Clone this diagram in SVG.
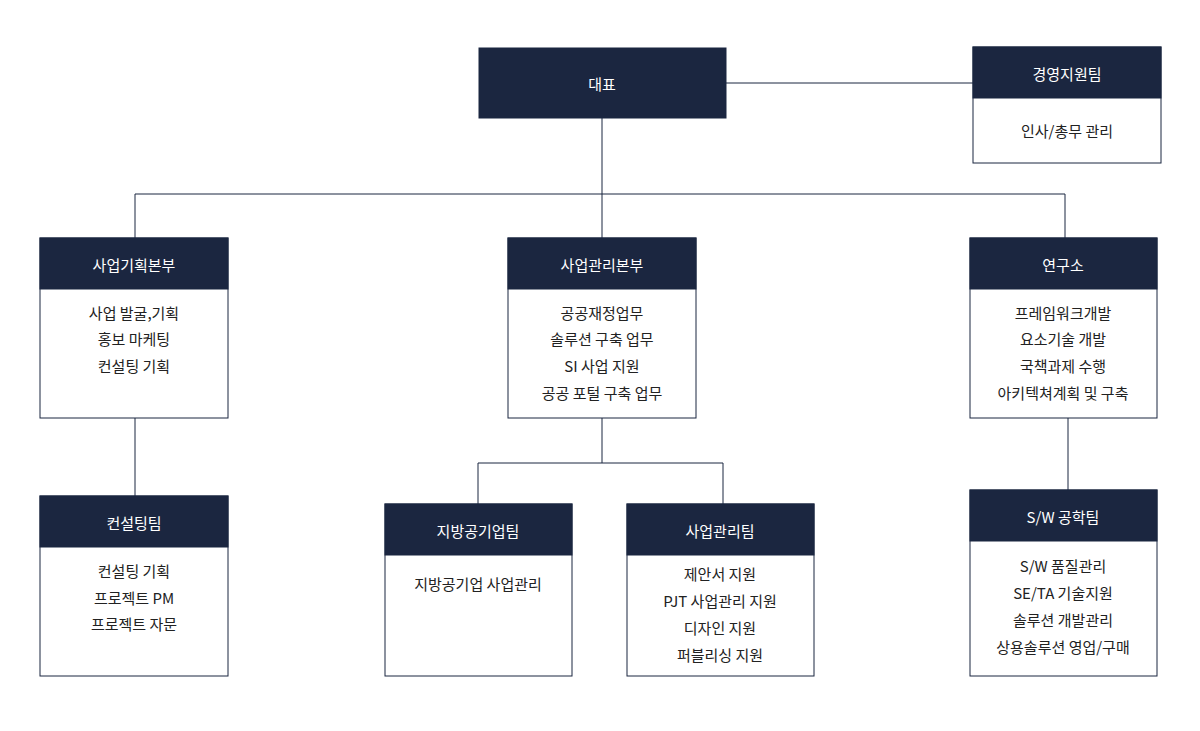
<svg xmlns="http://www.w3.org/2000/svg" width="1200" height="731" viewBox="0 0 1200 731">
<style>
.h{fill:#1b2640;stroke:#1b2640;stroke-width:1}
.b{fill:#fff;stroke:#1b2640;stroke-width:1}
.c{fill:none;stroke:#1b2640;stroke-width:1}
text{font-family:"Noto Sans CJK KR","Noto Sans",sans-serif;font-size:15px;text-anchor:middle;dominant-baseline:central}
.w{fill:#fff}
.t{fill:#222}
</style>
<rect width="1200" height="731" fill="#fff"/>
<g id="connectors">
<path class="c" d="M726,83H973M602,118V194M135,194H1065M135,194V238M602,194V238M1065,194V238M135,418V496M602,418V463M478,463H723M478,463V504M723,463V504M1068,418V490"/>
</g>
<g id="ceo"><rect class="h" x="479" y="48" width="247" height="70"/><text class="w" x="602" y="83">대표</text></g>
<g id="mgmt"><rect class="b" x="973" y="47" width="188" height="116"/><rect class="h" x="973" y="47" width="188" height="51"/><text class="w" x="1067" y="73">경영지원팀</text><text class="t" x="1067" y="130">인사/총무 관리</text></g>
<g id="plan"><rect class="b" x="40" y="238" width="188" height="180"/><rect class="h" x="40" y="238" width="188" height="51"/><text class="w" x="134" y="264">사업기획본부</text><text class="t" x="134" y="312">사업 발굴,기획</text><text class="t" x="134" y="338">홍보 마케팅</text><text class="t" x="134" y="365">컨설팅 기획</text></g>
<g id="biz"><rect class="b" x="508" y="238" width="188" height="180"/><rect class="h" x="508" y="238" width="188" height="51"/><text class="w" x="602" y="264">사업관리본부</text><text class="t" x="602" y="312">공공재정업무</text><text class="t" x="602" y="338">솔루션 구축 업무</text><text class="t" x="602" y="365">SI 사업 지원</text><text class="t" x="602" y="392">공공 포털 구축 업무</text></g>
<g id="lab"><rect class="b" x="970" y="238" width="187" height="180"/><rect class="h" x="970" y="238" width="187" height="51"/><text class="w" x="1063" y="264">연구소</text><text class="t" x="1063" y="312">프레임워크개발</text><text class="t" x="1063" y="338">요소기술 개발</text><text class="t" x="1063" y="365">국책과제 수행</text><text class="t" x="1063" y="392">아키텍쳐계획 및 구축</text></g>
<g id="consult"><rect class="b" x="40" y="496" width="188" height="180"/><rect class="h" x="40" y="496" width="188" height="51"/><text class="w" x="134" y="522">컨설팅팀</text><text class="t" x="134" y="570">컨설팅 기획</text><text class="t" x="134" y="597">프로젝트 PM</text><text class="t" x="134" y="623">프로젝트 자문</text></g>
<g id="local"><rect class="b" x="385" y="504" width="187" height="172"/><rect class="h" x="385" y="504" width="187" height="51"/><text class="w" x="478" y="530">지방공기업팀</text><text class="t" x="478" y="583">지방공기업 사업관리</text></g>
<g id="bizteam"><rect class="b" x="627" y="504" width="187" height="172"/><rect class="h" x="627" y="504" width="187" height="51"/><text class="w" x="720" y="530">사업관리팀</text><text class="t" x="720" y="573">제안서 지원</text><text class="t" x="720" y="600">PJT 사업관리 지원</text><text class="t" x="720" y="627">디자인 지원</text><text class="t" x="720" y="654">퍼블리싱 지원</text></g>
<g id="sw"><rect class="b" x="970" y="490" width="187" height="186"/><rect class="h" x="970" y="490" width="187" height="51"/><text class="w" x="1063" y="516">S/W 공학팀</text><text class="t" x="1063" y="565">S/W 품질관리</text><text class="t" x="1063" y="592">SE/TA 기술지원</text><text class="t" x="1063" y="619">솔루션 개발관리</text><text class="t" x="1063" y="646">상용솔루션 영업/구매</text></g>
</svg>
